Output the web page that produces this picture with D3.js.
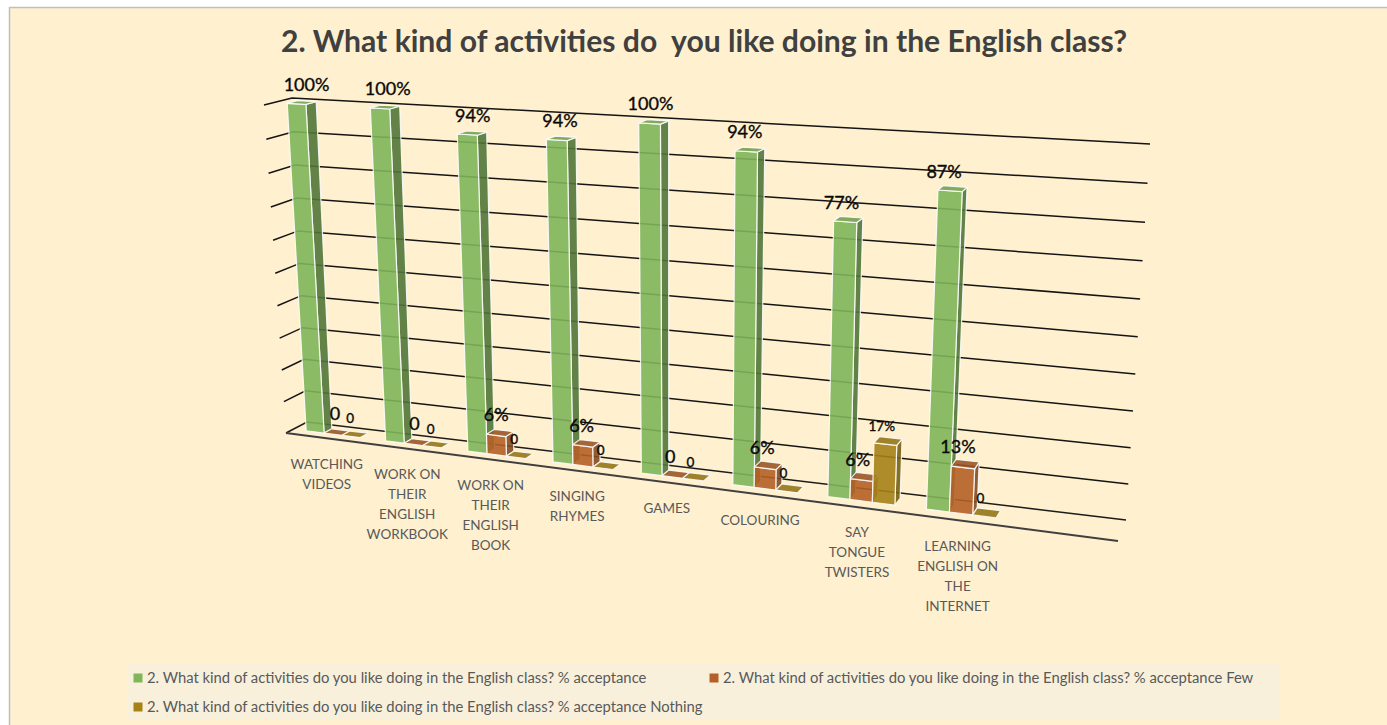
<!DOCTYPE html>
<html><head><meta charset="utf-8">
<script src="https://cdnjs.cloudflare.com/ajax/libs/d3/7.8.5/d3.min.js"></script>
<style>html,body{margin:0;padding:0;background:#fff;overflow:hidden}svg{display:block}text{font-family:Lato,"Open Sans",sans-serif}</style>
</head><body><div id="c"></div>
<script>
const titleText = "2. What kind of activities do  you like doing in the English class?";
const categories = [["WATCHING","VIDEOS"],["WORK ON","THEIR","ENGLISH","WORKBOOK"],["WORK ON","THEIR","ENGLISH","BOOK"],["SINGING","RHYMES"],["GAMES"],["COLOURING"],["SAY","TONGUE","TWISTERS"],["LEARNING","ENGLISH ON","THE","INTERNET"]];
const acceptance = [100,100,94,94,100,94,77,87];
const acceptanceFew = [0,0,6,6,0,6,6,13];
const acceptanceNothing = [0,0,0,0,0,0,17,0];
const seriesNames = ["2. What kind of activities do you like doing in the English class? % acceptance","2. What kind of activities do you like doing in the English class? % acceptance Few","2. What kind of activities do you like doing in the English class? % acceptance Nothing"];
const labelsA = ["100%","100%","94%","94%","100%","94%","77%","87%"];
const labelsF = ["0","0","6%","6%","0","6%","6%","13%"];
const labelsN = ["0","0","0","0","0","0","17%","0"];

const W=1387,H=725;
const svg=d3.select("#c").append("svg").attr("width",W).attr("height",H);
svg.append("rect").attr("x",9).attr("y",8).attr("width",W-9).attr("height",H-8).attr("fill","#fff0cf");
svg.append("path").attr("d",`M9.5,${H}V7.5H${W}`).attr("fill","none").attr("stroke","#bfbfbf").attr("stroke-width",1.5);
svg.append("text").attr("x",704).attr("y",52).attr("text-anchor","middle").attr("font-size",30.1).attr("font-weight",700).attr("fill","#404040").attr("xml:space","preserve").style("white-space","pre").text(titleText);

function quad(p0,p1,p2,p3){
  const dx1=p1[0]-p2[0],dx2=p3[0]-p2[0],dx3=p0[0]-p1[0]+p2[0]-p3[0];
  const dy1=p1[1]-p2[1],dy2=p3[1]-p2[1],dy3=p0[1]-p1[1]+p2[1]-p3[1];
  const den=dx1*dy2-dx2*dy1;
  const g=(dx3*dy2-dx2*dy3)/den,h=(dx1*dy3-dx3*dy1)/den;
  const a=p1[0]-p0[0]+g*p1[0],b=p3[0]-p0[0]+h*p3[0],c=p0[0];
  const d=p1[1]-p0[1]+g*p1[1],e=p3[1]-p0[1]+h*p3[1],f=p0[1];
  return (u,v)=>{const w=g*u+h*v+1;return [(a*u+b*v+c)/w,(d*u+e*v+f)/w];};
}
const frontPlane=quad([286,433],[1118,541],[1144,155],[264,105]);
const backPlane=quad([307,422],[1126,520],[1150,144],[292,98]);
const P=(u,v,d)=>{const a=frontPlane(u,v),b=backPlane(u,v);return [a[0]+(b[0]-a[0])*d,a[1]+(b[1]-a[1])*d];};

const N=9.03;
const xU=d3.scaleLinear().domain([0,N]).range([0,1]);
const yV=d3.scaleLinear().domain([0,100]).range([0,1]);
const line=d3.line();
const gridG=svg.append("g");
yV.ticks(10).forEach(t=>{
  const v=yV(t);
  gridG.append("path").attr("d",line([P(0,v,0),P(0,v,1),P(1,v,1)])).attr("fill","none")
    .attr("stroke",t===0?"#1c1c1c":"#141414").attr("stroke-width",1.5);
});
gridG.append("path").attr("d",line([P(0,0,0),P(1,0,0)])).attr("fill","none").attr("stroke","#404040").attr("stroke-width",2);

const D0=0.35,D1=0.72,OFF=0.165,BW=0.228;
const palette=[{f:"#80b55a",s:"#527637",t:"#76a053"},{f:"#b46026",s:"#834c22",t:"#9a5727"},{f:"#a58116",s:"#786012",t:"#967619"}];
const allSeries=[acceptance,acceptanceFew,acceptanceNothing];
const barG=svg.append("g");
categories.forEach((c,i)=>{
  allSeries.forEach((vals,k)=>{
    const u0=xU(i+OFF+k*BW),u1=xU(i+OFF+(k+1)*BW),v=yV(vals[i]),col=palette[k];
    const face=(pts,fill)=>barG.append("path").attr("d",line(pts)+"Z").attr("fill",fill).attr("fill-opacity",0.9)
      .attr("stroke","#fff").attr("stroke-opacity",0.85).attr("stroke-width",1.2).attr("stroke-linejoin","round");
    if(vals[i]>0){
      face([P(u1,0,D0),P(u1,0,D1),P(u1,v,D1),P(u1,v,D0)],col.s);
      face([P(u0,0,D0),P(u1,0,D0),P(u1,v,D0),P(u0,v,D0)],col.f);
    }
    face([P(u0,v,D0),P(u1,v,D0),P(u1,v,D1),P(u0,v,D1)],col.t);
  });
});
const dxA=d3.scaleLinear().domain([0,7]).range([10,-6]);
const dxF=d3.scaleLinear().domain([0,7]).range([2,-5]);
const dxN=d3.scaleLinear().domain([0,7]).range([-1,-4]);
const labelSets=[
  {t:labelsA,size:18,dx:i=>dxA(i),dy:-13},
  {t:labelsF,size:18,dx:i=>dxF(i),dy:-14},
  {t:labelsN,size:13.5,dx:i=>dxN(i),dy:-13}];
const labG=svg.append("g");
categories.forEach((c,i)=>{
  labelSets.forEach((s,k)=>{
    const u=xU(i+OFF+(k+.5)*BW),p=P(u,yV(allSeries[k][i]),D0);
    labG.append("text").attr("x",p[0]+s.dx(i)).attr("y",p[1]+s.dy).attr("text-anchor","middle")
      .attr("font-size",s.size).attr("fill","#0a0a0a").attr("stroke","#0a0a0a").attr("stroke-width",0.35).text(s.t[i]);
  });
  const q=P(xU(i+OFF+1.5*BW),0,0);
  const lg=svg.append("g");
  c.forEach((ln,j)=>lg.append("text").attr("x",q[0]+1).attr("y",q[1]+30.5+j*20).attr("text-anchor","middle")
    .attr("font-size",13.5).attr("fill","#595959").text(ln));
});
// legend
svg.append("rect").attr("x",128).attr("y",664).attr("width",1152).attr("height",56).attr("fill","#f8f0db");
const legendLayout=[[133,678],[709,678],[133,707]];
const legColors=[palette[0].f,palette[1].f,palette[2].f];
seriesNames.forEach((n,i)=>{
  const [x,y]=legendLayout[i];
  svg.append("rect").attr("x",x+.5).attr("y",y-4.5).attr("width",9).attr("height",9).attr("fill",legColors[i]);
  svg.append("text").attr("x",x+14).attr("y",y+5).attr("font-size",14.8).attr("fill","#595959").text(n);
});
</script></body></html>
